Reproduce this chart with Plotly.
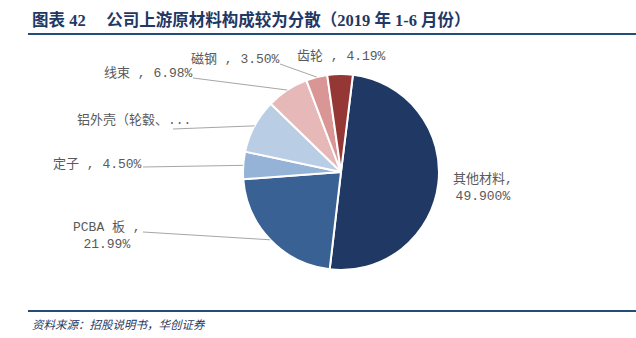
import math
import plotly.graph_objects as go

labels = ["其他材料", "PCBA 板", "定子", "铝外壳（轮毂、端盖）", "线束", "磁钢", "齿轮"]
values = [49.90, 21.99, 4.50, 8.94, 6.98, 3.50, 4.19]
label_texts = ["其他材料,<br>49.900%", "PCBA 板 ,<br>21.99%", "定子 , 4.50%",
               "铝外壳（轮毂、...", "线束 , 6.98%", "磁钢 , 3.50%", "齿轮 , 4.19%"]
colors = ["#203864", "#3A6194", "#95B3D7", "#B9CDE5", "#E6B9B8", "#D99694", "#953735"]

W, H = 636, 338
CX, CY, R = 341, 172, 98
ROT = 7

# label centre positions (pixels) and leader line start (pixels, None = no line)
label_pos = [(483, 188), (107, 236), (97, 165), (134, 120), (148, 73), (236, 59), (341, 57)]
line_start = [None, (143, 232), (143, 167), (173, 129), (193, 78), (280, 64), None]

fig = go.Figure(go.Pie(
    labels=labels, values=values, sort=False, direction="clockwise", rotation=ROT,
    marker=dict(colors=colors, line=dict(color="white", width=2)),
    textinfo="none", hoverinfo="label+percent", showlegend=False,
    domain=dict(x=[(CX - R) / W, (CX + R) / W], y=[1 - (CY + R) / H, 1 - (CY - R) / H]),
))

def px(x):
    return x / W

def py(y):
    return 1 - y / H

total = sum(values)
ang = ROT
shapes = []
annotations = []
for i, v in enumerate(values):
    span = v / total * 360
    mid = math.radians(ang + span / 2)
    ang += span
    ex = CX + R * math.sin(mid)
    ey = CY - R * math.cos(mid)
    if line_start[i] is not None:
        sx, sy = line_start[i]
        shapes.append(dict(type="line", xref="paper", yref="paper",
                           x0=px(sx), y0=py(sy), x1=px(ex), y1=py(ey),
                           line=dict(color="#A6A6A6", width=1)))
    lx, ly = label_pos[i]
    annotations.append(dict(x=px(lx), y=py(ly), xref="paper", yref="paper",
                            text=label_texts[i], showarrow=False,
                            xanchor="center", yanchor="middle",
                            font=dict(family="Liberation Mono, Noto Sans CJK SC", size=13, color="#595959")))

# title + footer
annotations.append(dict(x=px(30), y=py(20), xref="paper", yref="paper", xanchor="left", yanchor="middle",
                        text="<b>图表 42     公司上游原材料构成较为分散（2019 年 1-6 月份）</b>",
                        showarrow=False, font=dict(family="Liberation Serif, Noto Sans CJK SC", size=16.5, color="#1F3864")))
annotations.append(dict(x=px(30), y=py(324), xref="paper", yref="paper", xanchor="left", yanchor="middle",
                        text="<i>资料来源：招股说明书，华创证券</i>",
                        showarrow=False, font=dict(family="Noto Sans CJK SC", size=11.5, color="#1F3864")))
shapes.append(dict(type="line", xref="paper", yref="paper", x0=px(28), x1=1, y0=py(34), y1=py(34),
                   line=dict(color="#1F4E79", width=2)))
shapes.append(dict(type="line", xref="paper", yref="paper", x0=px(28), x1=1, y0=py(311), y1=py(311),
                   line=dict(color="#1F4E79", width=2)))

fig.update_layout(width=W, height=H, margin=dict(l=0, r=0, t=0, b=0),
                  paper_bgcolor="white", plot_bgcolor="white",
                  shapes=shapes, annotations=annotations)
fig.write_html("out.html")
